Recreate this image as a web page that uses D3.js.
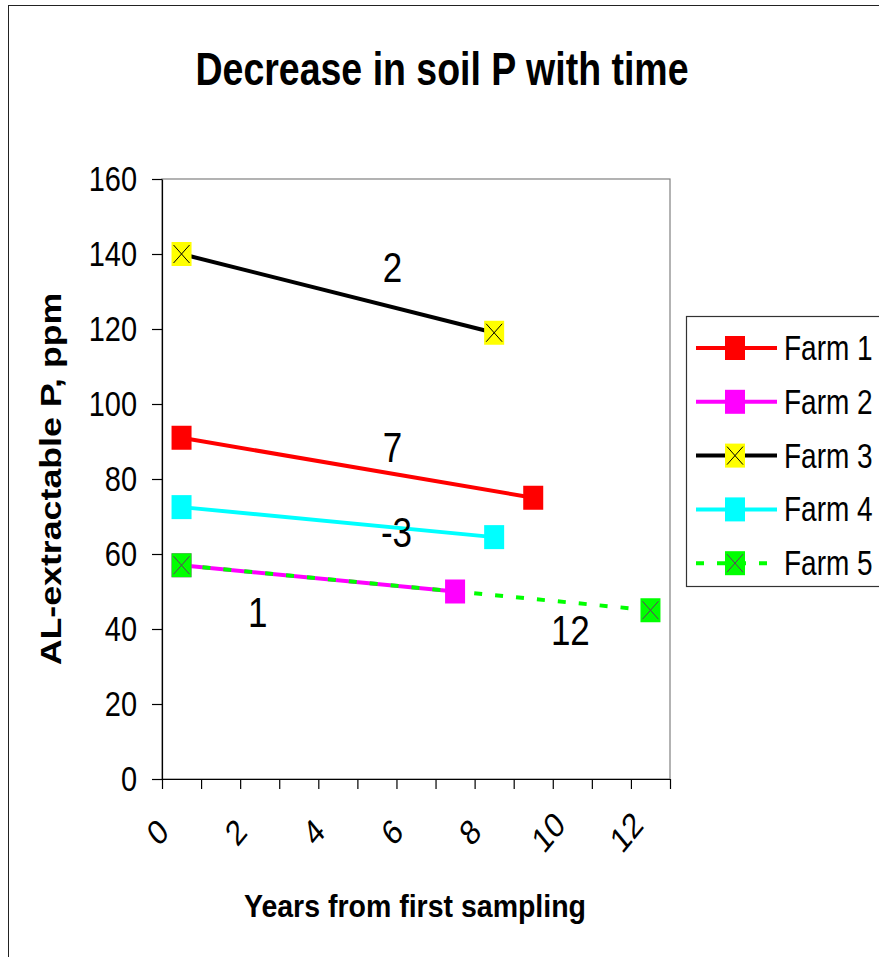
<!DOCTYPE html>
<html>
<head>
<meta charset="utf-8">
<script src="https://cdn.jsdelivr.net/npm/d3@7"></script>
<style>
  body { margin: 0; background: #fff; }
  text { font-family: "Liberation Sans", Arial, sans-serif; fill: #000; }
</style>
</head>
<body>
<div id="chart"></div>
<script>
// data
var farms = ["Farm 1", "Farm 2", "Farm 3", "Farm 4", "Farm 5"];
var farmYears = [[0.5, 9.5], [0.5, 7.5], [0.5, 8.5], [0.5, 8.5], [0.5, 12.5]];
var farmP = [[91, 75], [57, 50], [140, 119], [72.5, 64.5], [57, 45]];
var diffLabels = ["2", "7", "-3", "1", "12"];
var diffYears = [5.9, 5.9, 6.0, 2.45, 10.45];
var diffP = [132.6, 84.6, 61.9, 40.6, 35.7];
var xTickValues = d3.range(0, 14);
var yTickValues = [0, 20, 40, 60, 80, 100, 120, 140, 160];

// looks per series
var lineColor = ["#ff0000", "#ff00ff", "#000000", "#00ffff", "#00ff00"];
var markFill = ["#ff0000", "#ff00ff", "#ffff00", "#00ffff", "#00ff00"];
var markCross = [null, null, "#000000", null, "#663366"];
var lineDash = [null, null, null, null, "8,13"];

var W = 879, H = 957;
var SY = 1.22; // the picture's text is stretched vertically

var svg = d3.select("#chart").append("svg").attr("width", W).attr("height", H);
svg.append("rect").attr("width", W).attr("height", H).attr("fill", "#fff");
svg.append("rect").attr("x", 8.5).attr("y", 5.5).attr("width", 900).attr("height", 1000)
    .attr("fill", "none").attr("stroke", "#222").attr("stroke-width", 1);

var x = d3.scaleLinear().domain([0, 13]).range([162, 670]);
var y = d3.scaleLinear().domain([0, 160]).range([779, 179]);

function putText(t, px, py, size, weight, anchor, sy, rot) {
    return svg.append("text")
        .attr("transform", "translate(" + px + "," + py + ") scale(1," + sy + ")" + (rot ? " rotate(" + rot + ")" : ""))
        .attr("text-anchor", anchor).style("font-size", size + "px").style("font-weight", weight)
        .text(t);
}

putText("Decrease in soil P with time", 442, 85, 37.5, "bold", "middle", SY);

// plot area frame
svg.append("rect").attr("x", x(0)).attr("y", y(160)).attr("width", x(13) - x(0)).attr("height", y(0) - y(160))
    .attr("fill", "none").attr("stroke", "#808080").attr("stroke-width", 1.2);

var yAxis = svg.append("g").attr("transform", "translate(" + x(0) + ",0)")
    .call(d3.axisLeft(y).tickValues(yTickValues).tickSize(10).tickSizeOuter(0).tickPadding(15));
yAxis.selectAll("text").style("font-size", "29px").attr("transform", "scale(1," + SY + ")");

var xAxis = svg.append("g").attr("transform", "translate(0," + y(0) + ")")
    .call(d3.axisBottom(x).tickValues(xTickValues).tickSize(10).tickSizeOuter(0)
        .tickFormat(function(d) { return d % 2 === 0 ? d : ""; }));
xAxis.selectAll("text").style("font-size", "29px")
    .attr("x", 0).attr("y", 0).attr("dy", "0.35em").attr("text-anchor", "middle")
    .attr("transform", "translate(-5,53) scale(1," + SY + ") rotate(-45)");

svg.selectAll(".domain, .tick line").attr("stroke", "#000").attr("stroke-width", 1.2);

putText("AL-extractable P, ppm", 61, 479, 29.3, "bold", "middle", SY, -90);
putText("Years from first sampling", 415, 917, 28.5, "bold", "middle", 1.08);

var series = farms.map(function(name, i) {
    return { name: name, i: i, pts: farmYears[i].map(function(yr, j) { return [yr, farmP[i][j]]; }) };
});

var line = d3.line().x(function(d) { return x(d[0]); }).y(function(d) { return y(d[1]); });

svg.append("g").selectAll("path").data(series).enter().append("path")
    .attr("d", function(d) { return line(d.pts); })
    .attr("fill", "none")
    .attr("stroke", function(d) { return lineColor[d.i]; })
    .attr("stroke-width", 4)
    .attr("stroke-dasharray", function(d) { return lineDash[d.i]; });

var mw = 20, mh = 24;
function drawMarker(g, i, cx, cy) {
    g.append("rect").attr("x", cx - mw / 2).attr("y", cy - mh / 2).attr("width", mw).attr("height", mh)
        .attr("fill", markFill[i]);
    if (markCross[i]) {
        g.append("path")
            .attr("d", "M" + (cx - mw / 2 + 2) + "," + (cy - mh / 2 + 3) + "L" + (cx + mw / 2 - 2) + "," + (cy + mh / 2 - 3) +
                "M" + (cx + mw / 2 - 2) + "," + (cy - mh / 2 + 3) + "L" + (cx - mw / 2 + 2) + "," + (cy + mh / 2 - 3))
            .attr("stroke", markCross[i]).attr("stroke-width", 1);
    }
}

var markers = svg.append("g");
series.forEach(function(s) {
    s.pts.forEach(function(p) { drawMarker(markers, s.i, x(p[0]), y(p[1])); });
});

diffLabels.forEach(function(t, i) {
    putText(t, x(diffYears[i]), y(diffP[i]), 35, "normal", "middle", SY);
});

// legend
var lg = svg.append("g");
lg.append("rect").attr("x", 686.5).attr("y", 316.5).attr("width", 250).attr("height", 270)
    .attr("fill", "#fff").attr("stroke", "#333").attr("stroke-width", 1.2);
farms.forEach(function(name, i) {
    var ly = 348 + i * 53.8;
    lg.append("line").attr("x1", 696).attr("x2", 777).attr("y1", ly).attr("y2", ly)
        .attr("stroke", lineColor[i]).attr("stroke-width", 4)
        .attr("stroke-dasharray", lineDash[i]);
    drawMarker(lg, i, 735, ly);
    putText(name, 784, ly + 12, 28, "normal", "start", SY);
});
</script>
</body>
</html>
